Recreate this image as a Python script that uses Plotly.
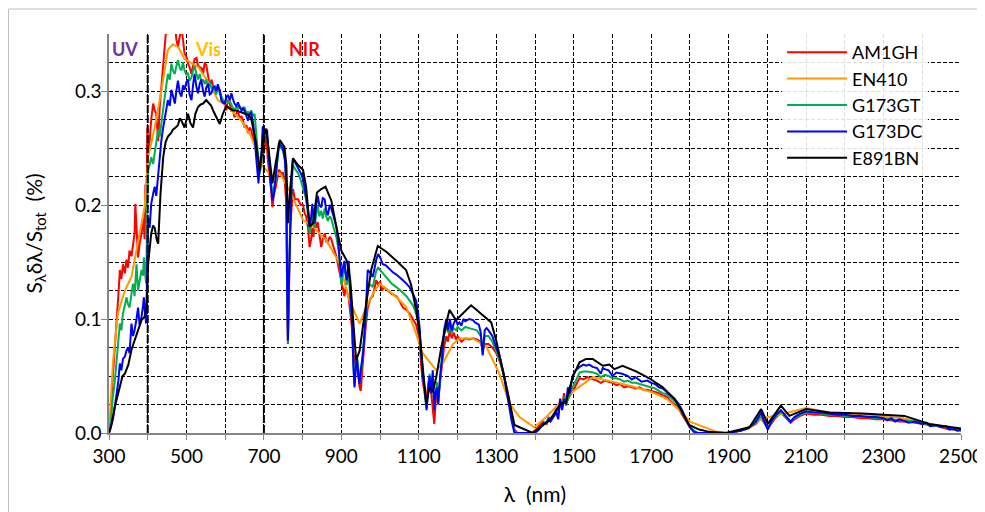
import plotly.graph_objects as go

# ---------------- data (wavelength nm, S_lambda*dlambda/S_tot %) ----------------
AM1GH = [
    (300, 0.0), (305, 0.02), (310, 0.05), (315, 0.072), (320, 0.10), (325, 0.125), (328, 0.143),
    (332, 0.135), (336, 0.148), (341, 0.140), (345, 0.152), (349, 0.145), (353, 0.160), (358, 0.155),
    (362, 0.166), (366, 0.175), (368, 0.201), (372, 0.165), (375, 0.154), (379, 0.166), (384, 0.175),
    (388, 0.189), (392, 0.170), (394, 0.218), (397, 0.200), (399, 0.268), (402, 0.245), (405, 0.256),
    (409, 0.275), (414, 0.289), (418, 0.283), (422, 0.280), (427, 0.256), (431, 0.286), (436, 0.305),
    (440, 0.324), (444, 0.342), (448, 0.356), (452, 0.350), (457, 0.360), (461, 0.356), (465, 0.352),
    (470, 0.360), (474, 0.345), (478, 0.339), (483, 0.350), (487, 0.356), (491, 0.345), (495, 0.333),
    (500, 0.330), (504, 0.324), (509, 0.320), (513, 0.315), (517, 0.322), (521, 0.328), (526, 0.329),
    (530, 0.322), (534, 0.321), (539, 0.320), (543, 0.315), (547, 0.325), (551, 0.323), (556, 0.312),
    (560, 0.305), (565, 0.310), (569, 0.303), (573, 0.298), (577, 0.303), (581, 0.301), (586, 0.301),
    (590, 0.294), (594, 0.292), (599, 0.289), (603, 0.283), (607, 0.292), (612, 0.289), (616, 0.282),
    (620, 0.285), (624, 0.277), (629, 0.280), (633, 0.283), (637, 0.276), (642, 0.278), (646, 0.274),
    (650, 0.268), (655, 0.270), (659, 0.263), (663, 0.268), (667, 0.266), (672, 0.258), (676, 0.255),
    (680, 0.248), (685, 0.238), (689, 0.230), (693, 0.235), (697, 0.258), (700, 0.245), (706, 0.262),
    (710, 0.240), (715, 0.225), (718, 0.215), (722, 0.198), (726, 0.210), (730, 0.215), (735, 0.225),
    (739, 0.231), (744, 0.228), (749, 0.228), (754, 0.220), (758, 0.200), (760, 0.120), (762, 0.078),
    (765, 0.130), (768, 0.180), (772, 0.200), (775, 0.214), (780, 0.205), (788, 0.205), (795, 0.200),
    (801, 0.200), (805, 0.193), (809, 0.190), (814, 0.180), (818, 0.163), (822, 0.170), (825, 0.180),
    (828, 0.172), (831, 0.187), (835, 0.180), (839, 0.185), (843, 0.175), (848, 0.163), (852, 0.170),
    (857, 0.175), (861, 0.168), (865, 0.168), (870, 0.172), (874, 0.170), (880, 0.163), (887, 0.155),
    (893, 0.145), (900, 0.133), (904, 0.125), (908, 0.120), (911, 0.128), (914, 0.125), (919, 0.118),
    (923, 0.105), (928, 0.090), (931, 0.070), (934, 0.060), (937, 0.068), (940, 0.065), (944, 0.050),
    (947, 0.040), (950, 0.037), (953, 0.050), (956, 0.070), (962, 0.090), (968, 0.110), (975, 0.118),
    (981, 0.120), (986, 0.128), (990, 0.134), (995, 0.130), (1000, 0.133), (1005, 0.125), (1010, 0.128),
    (1020, 0.125), (1030, 0.122), (1042, 0.120), (1050, 0.116), (1059, 0.110), (1068, 0.108),
    (1076, 0.105), (1085, 0.100), (1093, 0.095), (1098, 0.088), (1102, 0.080), (1106, 0.060),
    (1110, 0.045), (1115, 0.035), (1120, 0.030), (1125, 0.045), (1128, 0.050), (1132, 0.035),
    (1136, 0.020), (1140, 0.008), (1143, 0.025), (1147, 0.040), (1150, 0.030), (1155, 0.045),
    (1160, 0.060), (1165, 0.075), (1171, 0.085), (1175, 0.080), (1180, 0.090), (1185, 0.083),
    (1190, 0.088), (1196, 0.082), (1200, 0.085), (1210, 0.080), (1220, 0.083), (1230, 0.082),
    (1240, 0.083), (1250, 0.082), (1260, 0.080), (1265, 0.072), (1270, 0.078), (1280, 0.078),
    (1290, 0.075), (1300, 0.070), (1310, 0.062), (1320, 0.050), (1330, 0.035), (1340, 0.015),
    (1347, 0.003), (1355, 0.0), (1370, 0.0), (1390, 0.0), (1400, 0.002), (1410, 0.006), (1420, 0.010),
    (1430, 0.008), (1435, 0.014), (1440, 0.012), (1450, 0.016), (1455, 0.022), (1460, 0.018),
    (1465, 0.030), (1470, 0.024), (1475, 0.035), (1480, 0.026), (1490, 0.033), (1500, 0.038),
    (1510, 0.045), (1515, 0.048), (1525, 0.047), (1535, 0.049), (1550, 0.047), (1560, 0.046),
    (1570, 0.044), (1580, 0.046), (1590, 0.045), (1600, 0.044), (1610, 0.042), (1620, 0.043),
    (1630, 0.040), (1640, 0.041), (1650, 0.040), (1660, 0.039), (1670, 0.040), (1680, 0.038),
    (1690, 0.038), (1700, 0.037), (1710, 0.036), (1720, 0.035), (1730, 0.033), (1740, 0.032),
    (1750, 0.028), (1760, 0.025), (1770, 0.022), (1780, 0.016), (1790, 0.010), (1800, 0.005),
    (1810, 0.002), (1820, 0.0), (1850, 0.0), (1900, 0.0), (1930, 0.002), (1950, 0.004), (1970, 0.008),
    (1984, 0.013), (1990, 0.010), (2001, 0.004), (2010, 0.008), (2020, 0.013), (2035, 0.018),
    (2045, 0.014), (2060, 0.009), (2070, 0.012), (2085, 0.015), (2100, 0.017), (2120, 0.016),
    (2140, 0.016), (2160, 0.015), (2180, 0.015), (2200, 0.014), (2220, 0.014), (2240, 0.013),
    (2260, 0.013), (2280, 0.012), (2300, 0.012), (2320, 0.011), (2340, 0.010), (2360, 0.010),
    (2380, 0.009), (2400, 0.008), (2420, 0.007), (2440, 0.006), (2460, 0.004), (2480, 0.003),
    (2500, 0.002),
]

EN410 = [
    (300, 0.0), (310, 0.061), (323, 0.105), (341, 0.125), (358, 0.137), (375, 0.166), (392, 0.198),
    (401, 0.242), (418, 0.268), (435, 0.300), (452, 0.336), (465, 0.341), (480, 0.338), (495, 0.328),
    (530, 0.321), (564, 0.304), (581, 0.292), (607, 0.286), (642, 0.274), (667, 0.260), (693, 0.236),
    (720, 0.225), (741, 0.228), (770, 0.210), (801, 0.187), (827, 0.181), (861, 0.169), (895, 0.149),
    (921, 0.116), (947, 0.096), (964, 0.110), (986, 0.125), (999, 0.131), (1033, 0.122), (1067, 0.111),
    (1090, 0.090), (1110, 0.070), (1145, 0.055), (1162, 0.061), (1188, 0.078), (1205, 0.083),
    (1239, 0.083), (1274, 0.076), (1308, 0.052), (1334, 0.026), (1360, 0.014), (1398, 0.005),
    (1429, 0.014), (1463, 0.026), (1500, 0.037), (1549, 0.049), (1600, 0.045), (1650, 0.041),
    (1700, 0.036), (1740, 0.030), (1780, 0.018), (1800, 0.010), (1830, 0.006), (1870, 0.001),
    (1910, 0.0), (1950, 0.005), (1988, 0.013), (2031, 0.016), (2100, 0.022), (2160, 0.018),
    (2250, 0.016), (2350, 0.013), (2420, 0.008), (2500, 0.003),
]

G173GT = [
    (300, 0.0), (305, 0.010), (310, 0.032), (315, 0.045), (319, 0.061), (323, 0.075), (328, 0.096),
    (332, 0.090), (336, 0.105), (341, 0.112), (345, 0.119), (349, 0.113), (353, 0.110), (358, 0.122),
    (362, 0.131), (366, 0.120), (371, 0.148), (375, 0.125), (379, 0.135), (384, 0.143), (388, 0.138),
    (390, 0.154), (393, 0.140), (396, 0.131), (399, 0.200), (401, 0.230), (405, 0.235), (409, 0.242),
    (414, 0.236), (418, 0.248), (422, 0.255), (427, 0.266), (431, 0.260), (435, 0.271), (440, 0.282),
    (444, 0.295), (448, 0.305), (452, 0.315), (457, 0.310), (461, 0.324), (465, 0.318), (470, 0.315),
    (474, 0.322), (478, 0.327), (483, 0.320), (487, 0.318), (491, 0.325), (495, 0.318), (500, 0.314),
    (504, 0.316), (508, 0.309), (513, 0.312), (517, 0.318), (521, 0.322), (526, 0.315), (530, 0.310),
    (534, 0.315), (539, 0.308), (543, 0.310), (547, 0.306), (551, 0.310), (556, 0.303), (560, 0.308),
    (565, 0.302), (569, 0.305), (573, 0.301), (577, 0.297), (581, 0.302), (586, 0.298), (590, 0.295),
    (594, 0.293), (599, 0.289), (603, 0.293), (607, 0.290), (612, 0.291), (616, 0.287), (620, 0.285),
    (624, 0.283), (629, 0.287), (633, 0.284), (637, 0.287), (642, 0.284), (646, 0.283), (650, 0.286),
    (655, 0.280), (659, 0.282), (663, 0.279), (667, 0.283), (672, 0.278), (676, 0.280), (680, 0.265),
    (685, 0.242), (689, 0.227), (693, 0.235), (697, 0.262), (700, 0.260), (706, 0.264), (710, 0.255),
    (715, 0.235), (718, 0.225), (722, 0.208), (726, 0.215), (730, 0.220), (735, 0.240), (739, 0.252),
    (744, 0.250), (749, 0.248), (754, 0.240), (758, 0.220), (760, 0.130), (762, 0.079), (765, 0.135),
    (768, 0.190), (772, 0.220), (775, 0.235), (780, 0.232), (788, 0.228), (795, 0.222), (801, 0.215),
    (805, 0.210), (809, 0.205), (814, 0.190), (818, 0.175), (822, 0.182), (825, 0.190), (828, 0.183),
    (831, 0.180), (835, 0.192), (839, 0.200), (843, 0.190), (848, 0.195), (852, 0.188), (857, 0.197),
    (861, 0.190), (865, 0.186), (870, 0.190), (874, 0.188), (880, 0.180), (887, 0.172), (893, 0.160),
    (900, 0.130), (904, 0.140), (908, 0.145), (911, 0.138), (914, 0.130), (919, 0.140), (923, 0.120),
    (928, 0.095), (931, 0.060), (934, 0.042), (937, 0.060), (940, 0.068), (944, 0.055), (947, 0.046),
    (950, 0.050), (953, 0.060), (956, 0.070), (962, 0.095), (968, 0.130), (975, 0.130), (981, 0.128),
    (986, 0.135), (990, 0.142), (995, 0.145), (1000, 0.143), (1005, 0.140), (1010, 0.138),
    (1020, 0.135), (1030, 0.131), (1042, 0.128), (1050, 0.126), (1059, 0.123), (1068, 0.120),
    (1076, 0.116), (1085, 0.112), (1093, 0.105), (1098, 0.098), (1102, 0.088), (1106, 0.070),
    (1110, 0.050), (1115, 0.035), (1120, 0.022), (1125, 0.040), (1128, 0.052), (1132, 0.036),
    (1136, 0.050), (1140, 0.022), (1143, 0.035), (1147, 0.045), (1150, 0.025), (1155, 0.050),
    (1160, 0.068), (1165, 0.085), (1171, 0.095), (1175, 0.088), (1180, 0.095), (1185, 0.088),
    (1190, 0.092), (1196, 0.090), (1200, 0.093), (1210, 0.090), (1220, 0.093), (1230, 0.092),
    (1240, 0.091), (1250, 0.090), (1260, 0.085), (1265, 0.070), (1270, 0.085), (1280, 0.085),
    (1290, 0.080), (1300, 0.072), (1310, 0.063), (1320, 0.050), (1330, 0.032), (1340, 0.012),
    (1347, 0.001), (1355, 0.0), (1370, 0.0), (1390, 0.0), (1400, 0.001), (1410, 0.004), (1420, 0.008),
    (1430, 0.010), (1435, 0.013), (1440, 0.011), (1450, 0.016), (1455, 0.020), (1460, 0.016),
    (1465, 0.028), (1470, 0.022), (1475, 0.032), (1480, 0.024), (1490, 0.035), (1500, 0.042),
    (1510, 0.050), (1515, 0.053), (1525, 0.054), (1535, 0.054), (1550, 0.053), (1560, 0.052),
    (1570, 0.049), (1580, 0.051), (1590, 0.050), (1600, 0.048), (1610, 0.048), (1620, 0.047),
    (1630, 0.045), (1640, 0.046), (1650, 0.044), (1660, 0.044), (1670, 0.043), (1680, 0.042),
    (1690, 0.041), (1700, 0.040), (1710, 0.039), (1720, 0.037), (1730, 0.035), (1740, 0.034),
    (1750, 0.031), (1760, 0.028), (1770, 0.024), (1780, 0.018), (1790, 0.012), (1800, 0.006),
    (1810, 0.002), (1820, 0.0), (1850, 0.0), (1900, 0.0), (1930, 0.002), (1950, 0.004), (1970, 0.009),
    (1984, 0.015), (1990, 0.011), (2001, 0.004), (2010, 0.009), (2020, 0.014), (2035, 0.019),
    (2045, 0.015), (2060, 0.010), (2070, 0.013), (2085, 0.016), (2100, 0.018), (2120, 0.018),
    (2140, 0.017), (2160, 0.016), (2180, 0.016), (2200, 0.015), (2220, 0.015), (2240, 0.014),
    (2260, 0.014), (2280, 0.013), (2300, 0.013), (2320, 0.012), (2340, 0.011), (2360, 0.011),
    (2380, 0.010), (2400, 0.009), (2420, 0.007), (2440, 0.006), (2460, 0.005), (2480, 0.003),
    (2500, 0.002),
]

G173DC = [
    (300, 0.0), (305, 0.005), (310, 0.012), (315, 0.023), (320, 0.035), (324, 0.045), (328, 0.061),
    (332, 0.055), (336, 0.065), (341, 0.067), (345, 0.072), (349, 0.075), (353, 0.070), (358, 0.096),
    (362, 0.085), (366, 0.090), (371, 0.100), (375, 0.110), (379, 0.095), (384, 0.102), (388, 0.112),
    (390, 0.119), (393, 0.105), (396, 0.096), (399, 0.150), (401, 0.189), (405, 0.180), (409, 0.201),
    (414, 0.210), (418, 0.216), (422, 0.208), (427, 0.227), (431, 0.240), (435, 0.256), (440, 0.268),
    (444, 0.277), (448, 0.285), (452, 0.292), (457, 0.287), (461, 0.301), (465, 0.296), (470, 0.289),
    (474, 0.300), (478, 0.309), (483, 0.298), (487, 0.295), (491, 0.305), (495, 0.301), (500, 0.308),
    (504, 0.310), (508, 0.297), (513, 0.292), (517, 0.305), (521, 0.315), (526, 0.303), (530, 0.298),
    (534, 0.306), (538, 0.310), (543, 0.300), (547, 0.295), (551, 0.303), (556, 0.306), (560, 0.297),
    (564, 0.298), (569, 0.303), (573, 0.304), (577, 0.300), (581, 0.306), (586, 0.300), (590, 0.292),
    (594, 0.290), (599, 0.289), (603, 0.295), (607, 0.296), (612, 0.292), (616, 0.298), (620, 0.293),
    (624, 0.289), (629, 0.287), (633, 0.290), (637, 0.286), (642, 0.283), (646, 0.285), (650, 0.283),
    (655, 0.278), (659, 0.274), (663, 0.280), (667, 0.281), (672, 0.272), (676, 0.260), (680, 0.242),
    (683, 0.232), (686, 0.219), (689, 0.235), (693, 0.240), (697, 0.269), (700, 0.266), (704, 0.262),
    (708, 0.266), (712, 0.250), (715, 0.231), (718, 0.218), (722, 0.204), (726, 0.210), (730, 0.225),
    (735, 0.243), (739, 0.255), (744, 0.252), (749, 0.250), (754, 0.240), (758, 0.216), (760, 0.130),
    (762, 0.081), (765, 0.140), (768, 0.187), (772, 0.225), (775, 0.241), (780, 0.238), (788, 0.233),
    (795, 0.228), (801, 0.223), (805, 0.216), (809, 0.207), (814, 0.195), (818, 0.181), (822, 0.190),
    (825, 0.201), (828, 0.190), (831, 0.184), (835, 0.200), (839, 0.208), (843, 0.200), (848, 0.198),
    (852, 0.206), (857, 0.205), (861, 0.195), (865, 0.191), (870, 0.200), (874, 0.197), (880, 0.190),
    (887, 0.181), (891, 0.170), (895, 0.157), (900, 0.137), (904, 0.145), (908, 0.151), (911, 0.140),
    (914, 0.134), (919, 0.151), (923, 0.125), (928, 0.093), (931, 0.060), (934, 0.040), (937, 0.055),
    (940, 0.067), (944, 0.050), (947, 0.043), (950, 0.055), (953, 0.065), (956, 0.070), (962, 0.099),
    (968, 0.143), (975, 0.140), (981, 0.137), (986, 0.145), (990, 0.152), (995, 0.157), (1000, 0.154),
    (1007, 0.148), (1015, 0.147), (1024, 0.144), (1033, 0.141), (1042, 0.139), (1050, 0.137),
    (1059, 0.134), (1068, 0.131), (1076, 0.128), (1085, 0.122), (1093, 0.116), (1098, 0.105),
    (1102, 0.093), (1106, 0.070), (1110, 0.050), (1115, 0.040), (1120, 0.020), (1125, 0.040),
    (1128, 0.050), (1132, 0.035), (1136, 0.055), (1140, 0.020), (1143, 0.035), (1147, 0.040),
    (1150, 0.025), (1155, 0.050), (1160, 0.065), (1165, 0.090), (1171, 0.100), (1175, 0.090),
    (1180, 0.100), (1185, 0.090), (1190, 0.096), (1196, 0.100), (1200, 0.095), (1205, 0.097),
    (1210, 0.094), (1215, 0.100), (1220, 0.098), (1230, 0.100), (1240, 0.099), (1245, 0.097),
    (1250, 0.096), (1255, 0.095), (1260, 0.088), (1265, 0.068), (1270, 0.090), (1275, 0.092),
    (1280, 0.090), (1290, 0.085), (1300, 0.075), (1310, 0.065), (1320, 0.050), (1330, 0.030),
    (1340, 0.010), (1347, 0.0), (1360, 0.0), (1380, 0.0), (1400, 0.0), (1410, 0.003), (1420, 0.008),
    (1430, 0.009), (1435, 0.012), (1440, 0.010), (1450, 0.015), (1455, 0.018), (1460, 0.012),
    (1465, 0.030), (1470, 0.020), (1475, 0.030), (1480, 0.025), (1485, 0.040), (1490, 0.035),
    (1497, 0.050), (1505, 0.055), (1515, 0.058), (1525, 0.060), (1532, 0.059), (1540, 0.060),
    (1549, 0.058), (1560, 0.057), (1570, 0.052), (1575, 0.057), (1580, 0.056), (1590, 0.055),
    (1600, 0.050), (1610, 0.053), (1625, 0.052), (1640, 0.050), (1650, 0.047), (1660, 0.049),
    (1675, 0.045), (1690, 0.046), (1700, 0.044), (1710, 0.043), (1720, 0.040), (1730, 0.039),
    (1740, 0.036), (1750, 0.033), (1760, 0.030), (1770, 0.026), (1780, 0.020), (1790, 0.012),
    (1800, 0.005), (1810, 0.001), (1820, 0.0), (1850, 0.0), (1900, 0.0), (1930, 0.002), (1950, 0.004),
    (1970, 0.010), (1984, 0.018), (1990, 0.012), (2001, 0.003), (2010, 0.010), (2020, 0.015),
    (2035, 0.020), (2045, 0.016), (2060, 0.010), (2070, 0.014), (2085, 0.017), (2100, 0.019),
    (2120, 0.018), (2140, 0.018), (2160, 0.017), (2180, 0.016), (2200, 0.016), (2220, 0.015),
    (2240, 0.015), (2260, 0.014), (2280, 0.014), (2300, 0.013), (2310, 0.011), (2320, 0.013),
    (2330, 0.010), (2340, 0.012), (2350, 0.011), (2365, 0.009), (2380, 0.010), (2400, 0.008),
    (2410, 0.009), (2420, 0.006), (2435, 0.007), (2450, 0.005), (2460, 0.006), (2470, 0.003),
    (2480, 0.004), (2490, 0.002), (2500, 0.003),
]

E891BN = [
    (300, 0.0), (305, 0.005), (315, 0.023), (322, 0.032), (328, 0.040), (335, 0.050), (341, 0.052),
    (350, 0.060), (358, 0.073), (365, 0.080), (371, 0.087), (378, 0.093), (384, 0.099), (392, 0.102),
    (397, 0.110), (401, 0.148), (405, 0.165), (409, 0.175), (414, 0.182), (418, 0.180), (423, 0.170),
    (427, 0.166), (433, 0.210), (440, 0.242), (446, 0.255), (452, 0.260), (460, 0.263), (465, 0.266),
    (472, 0.268), (478, 0.270), (483, 0.276), (487, 0.274), (495, 0.268), (504, 0.280), (510, 0.272),
    (517, 0.268), (523, 0.280), (530, 0.286), (536, 0.288), (543, 0.289), (551, 0.292), (557, 0.290),
    (564, 0.287), (570, 0.282), (577, 0.277), (586, 0.271), (594, 0.280), (603, 0.287), (610, 0.285),
    (620, 0.283), (628, 0.283), (637, 0.282), (646, 0.281), (654, 0.280), (660, 0.279), (667, 0.276),
    (674, 0.265), (680, 0.254), (685, 0.240), (689, 0.230), (695, 0.248), (700, 0.263), (706, 0.267),
    (713, 0.248), (718, 0.232), (722, 0.219), (730, 0.236), (741, 0.257), (753, 0.251), (758, 0.235),
    (762, 0.184), (768, 0.215), (775, 0.241), (788, 0.235), (801, 0.231), (809, 0.216), (818, 0.181),
    (827, 0.184), (837, 0.211), (848, 0.214), (859, 0.216), (874, 0.204), (887, 0.181), (900, 0.160),
    (914, 0.151), (923, 0.134), (938, 0.064), (947, 0.072), (960, 0.104), (977, 0.143), (994, 0.164),
    (1016, 0.159), (1042, 0.151), (1067, 0.143), (1080, 0.130), (1093, 0.108), (1102, 0.087),
    (1110, 0.060), (1119, 0.026), (1128, 0.040), (1136, 0.036), (1145, 0.049), (1158, 0.075),
    (1171, 0.096), (1179, 0.108), (1196, 0.099), (1235, 0.112), (1287, 0.097), (1300, 0.081),
    (1317, 0.055), (1334, 0.029), (1347, 0.007), (1394, 0.0), (1437, 0.011), (1467, 0.026),
    (1480, 0.027), (1497, 0.049), (1515, 0.062), (1532, 0.065), (1549, 0.065), (1575, 0.059),
    (1592, 0.060), (1605, 0.056), (1626, 0.059), (1661, 0.054), (1695, 0.048), (1730, 0.040),
    (1760, 0.030), (1781, 0.018), (1798, 0.007), (1824, 0.003), (1850, 0.001), (1893, 0.0),
    (1954, 0.005), (1984, 0.021), (2001, 0.008), (2035, 0.024), (2057, 0.015), (2100, 0.021),
    (2160, 0.018), (2246, 0.017), (2354, 0.015), (2418, 0.008), (2500, 0.004),
]

series_names = ["AM1GH", "EN410", "G173GT", "G173DC", "E891BN"]
series_data = [AM1GH, EN410, G173GT, G173DC, E891BN]
series_colors = ["#FF0000", "#FF9900", "#00B050", "#0000FF", "#000000"]

region_bounds = [400, 700]
region_labels = ["UV", "Vis", "NIR"]
region_label_x = [341, 556, 805]
region_colors = ["#7030A0", "#FFC000", "#FF0000"]

FONT = "Lato, 'Open Sans', sans-serif"

fig = go.Figure()
for name, data, col in zip(series_names, series_data, series_colors):
    wl = [p[0] for p in data]
    val = [p[1] for p in data]
    fig.add_trace(go.Scatter(x=wl, y=val, mode="lines", name=name,
                             line=dict(color=col, width=2)))

for b in region_bounds:
    fig.add_shape(type="line", xref="x", yref="paper", x0=b, x1=b, y0=0, y1=1,
                  line=dict(color="black", width=2, dash="8px,2px"), layer="above")

for txt, xv, col in zip(region_labels, region_label_x, region_colors):
    fig.add_annotation(x=xv, y=0.337, xref="x", yref="y", text="<b>" + txt + "</b>",
                       showarrow=False, font=dict(family=FONT, size=18, color=col))

# outer chart frame (top and left edges)
fig.add_shape(type="line", xref="paper", yref="paper", x0=-0.1180, x1=1.05, y0=1.0626, y1=1.0626,
              line=dict(color="#BFBFBF", width=1))
fig.add_shape(type="line", xref="paper", yref="paper", x0=-0.1180, x1=-0.1180, y0=-0.3, y1=1.0626,
              line=dict(color="#BFBFBF", width=1))

fig.update_xaxes(range=[300, 2500], tick0=300, dtick=200, automargin=False,
                 showgrid=True, gridcolor="#000000", gridwidth=1, griddash="4px,2px",
                 minor=dict(dtick=100, tick0=300, showgrid=True, gridcolor="#000000",
                            gridwidth=1, griddash="4px,2px", ticks="outside", ticklen=5,
                            tickcolor="#868686"),
                 showline=True, linecolor="#868686", linewidth=1.5,
                 ticks="outside", ticklen=5, tickcolor="#868686",
                 tickfont=dict(family=FONT, size=19, color="black"),
                 title=dict(text="λ  (nm)", font=dict(family=FONT, size=21, color="black"),
                            standoff=22),
                 zeroline=False)
fig.update_yaxes(range=[0, 0.35], dtick=0.1, tickformat=".1f", automargin=False,
                 showgrid=True, gridcolor="#000000", gridwidth=1, griddash="4px,2px",
                 minor=dict(dtick=0.025, showgrid=True, gridcolor="#000000",
                            gridwidth=1, griddash="4px,2px"),
                 showline=True, linecolor="#868686", linewidth=1.5,
                 ticks="outside", ticklen=6, tickcolor="#868686", ticklabelstandoff=-4,
                 tickfont=dict(family=FONT, size=19, color="black"),
                 title=dict(text="S<sub>λ</sub>δλ/S<sub>tot</sub>  (%)",
                            font=dict(family=FONT, size=21, color="black"), standoff=27),
                 zeroline=False)

fig.update_layout(
    width=985, height=512,
    margin=dict(l=101, r=32, t=26, b=87, autoexpand=False),
    paper_bgcolor="white", plot_bgcolor="white",
    font=dict(family=FONT, color="black"),
    showlegend=True,
    legend=dict(x=0.79, y=1.0, xanchor="left", yanchor="top",
                bgcolor="rgba(255,255,255,0.88)", borderwidth=0,
                font=dict(family=FONT, size=18, color="black"),
                itemwidth=60, tracegroupgap=0),
)

fig.write_html("out.html")
